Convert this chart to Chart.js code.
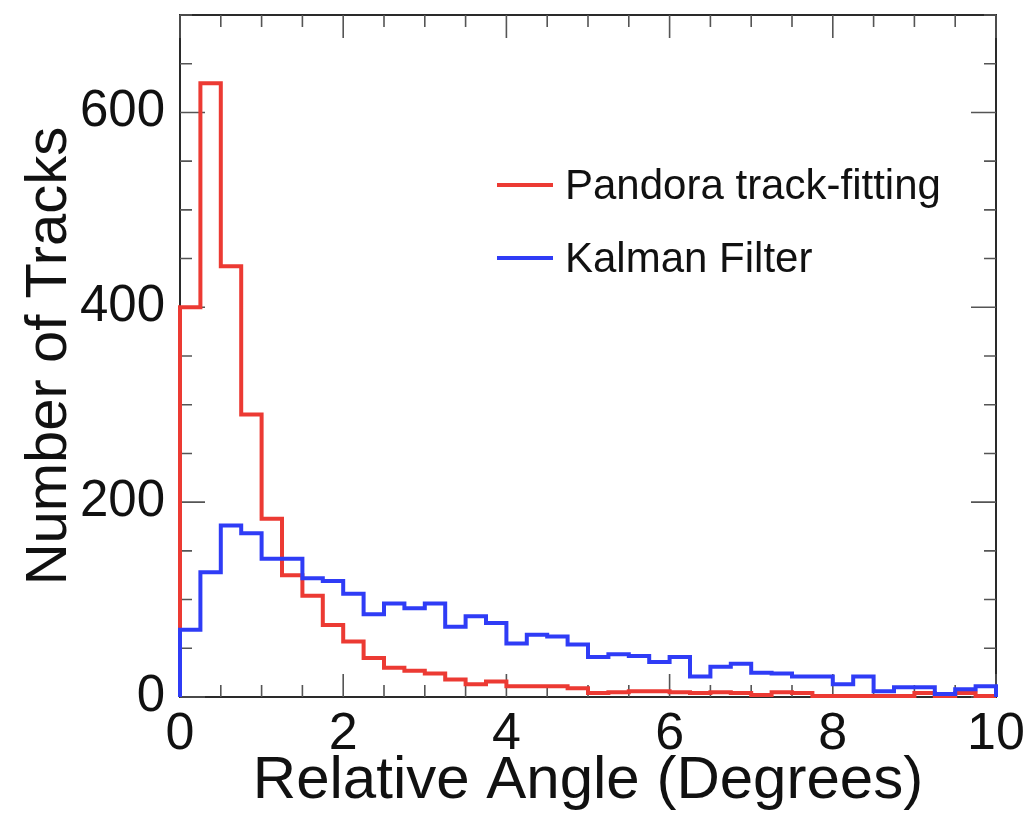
<!DOCTYPE html>
<html>
<head>
<meta charset="utf-8">
<script src="https://cdn.jsdelivr.net/npm/chart.js@4.4.1/dist/chart.umd.min.js"></script>
<style>
  html, body { margin: 0; padding: 0; background: #fff; }
  #wrap { width: 1027px; height: 827px; }
</style>
</head>
<body>
<div id="wrap"><canvas id="angleChart" width="1027" height="827"></canvas></div>
<script>
// histogram bins: left edges in degrees, width 0.25
const binWidth = 0.25;
const binEdges = [0, 0.25, 0.5, 0.75, 1, 1.25, 1.5, 1.75, 2, 2.25, 2.5, 2.75, 3, 3.25, 3.5, 3.75,
    4, 4.25, 4.5, 4.75, 5, 5.25, 5.5, 5.75, 6, 6.25, 6.5, 6.75, 7, 7.25, 7.5, 7.75,
    8, 8.25, 8.5, 8.75, 9, 9.25, 9.5, 9.75];

const pandoraCounts = [400, 630, 442, 290, 183, 125, 104, 74, 57, 40, 30, 27, 24, 18, 13, 16,
    11, 11, 11, 9, 4, 5, 6, 6, 5, 4, 5, 4, 2, 5, 4, 1,
    1, 1, 1, 1, 4, 1, 4, 1];

const kalmanCounts = [69, 128, 176, 168, 142, 142, 122, 119, 106, 85, 96, 91, 96, 72, 83, 76,
    55, 64, 62, 54, 41, 44, 42, 36, 41, 21, 31, 34, 25, 24, 21, 21,
    13, 21, 6, 10, 10, 3, 8, 11];

const seriesLabels = ['Pandora track-fitting', 'Kalman Filter'];
const seriesColors = ['#ec3a33', '#2f3cf6'];

const xTickValues = [0, 2, 4, 6, 8, 10];
const yTickValues = [0, 200, 400, 600];

const FONT = '"Liberation Sans", Arial, Helvetica, sans-serif';

// outline of a histogram as stepped points (horizontal first)
function histPoints(counts) {
    const pts = [{ x: binEdges[0], y: 0 }];
    counts.forEach((c, i) => pts.push({ x: binEdges[i], y: c }));
    const last = binEdges[binEdges.length - 1] + binWidth;
    pts.push({ x: last, y: counts[counts.length - 1] });
    pts.push({ x: last, y: 0 });
    return pts;
}

// box with inward ticks on all four sides (ROOT style)
const frameTicks = {
    id: 'frameTicks',
    beforeDatasetsDraw(chart) {
        const { ctx, chartArea: a, scales: { x, y } } = chart;
        ctx.save();
        ctx.strokeStyle = '#2a2a2a';
        ctx.lineWidth = 2;
        ctx.strokeRect(a.left, a.top, a.right - a.left, a.bottom - a.top);
        ctx.lineWidth = 1.6;
        ctx.strokeStyle = '#555';
        ctx.beginPath();
        for (let v = 0; v <= 10.001; v += 0.5) {
            const px = x.getPixelForValue(v);
            const len = Math.abs(v / 2 - Math.round(v / 2)) < 1e-6 ? 23 : 12;
            ctx.moveTo(px, a.bottom); ctx.lineTo(px, a.bottom - len);
            ctx.moveTo(px, a.top); ctx.lineTo(px, a.top + len);
        }
        for (let v = 0; v <= 700; v += 50) {
            const py = y.getPixelForValue(v);
            const len = v % 200 === 0 ? 25 : 12;
            ctx.moveTo(a.left, py); ctx.lineTo(a.left + len, py);
            ctx.moveTo(a.right, py); ctx.lineTo(a.right - len, py);
        }
        ctx.stroke();
        ctx.restore();
    },
    afterDatasetsDraw(chart) {
        // legend in the upper right of the frame
        const { ctx, chartArea: a } = chart;
        ctx.save();
        ctx.font = '42px ' + FONT;
        ctx.textBaseline = 'middle';
        ctx.fillStyle = '#111';
        seriesLabels.forEach((label, i) => {
            const yy = a.top + 170 + i * 73;
            ctx.strokeStyle = seriesColors[i];
            ctx.lineWidth = 4;
            ctx.beginPath();
            ctx.moveTo(a.left + 317, yy);
            ctx.lineTo(a.left + 373, yy);
            ctx.stroke();
            ctx.fillText(label, a.left + 385, yy + 2);
        });
        ctx.restore();
    }
};

const datasets = [pandoraCounts, kalmanCounts].map((counts, i) => ({
    label: seriesLabels[i],
    data: histPoints(counts),
    borderColor: seriesColors[i],
    borderWidth: 4,
    stepped: true,
    pointRadius: 0,
    fill: false,
    borderJoinStyle: 'miter',
    borderCapStyle: 'butt',
    clip: 6
}));

new Chart(document.getElementById('angleChart'), {
    type: 'line',
    data: { datasets: datasets.reverse() },
    options: {
        responsive: false,
        animation: false,
        layout: { padding: { left: 0, right: 31, top: 15, bottom: 0 } },
        plugins: { legend: { display: false }, tooltip: { enabled: false } },
        scales: {
            x: {
                type: 'linear',
                min: 0,
                max: 10,
                grid: { display: false, drawTicks: false },
                border: { display: false },
                afterBuildTicks: s => { s.ticks = xTickValues.map(v => ({ value: v })); },
                afterFit: s => { s.height = 130; s.paddingLeft = 0; s.paddingRight = 0; },
                ticks: {
                    padding: 6,
                    color: '#111',
                    font: { family: FONT, size: 52 },
                    maxRotation: 0,
                    autoSkip: false
                },
                title: {
                    display: true,
                    text: 'Relative Angle (Degrees)',
                    color: '#111',
                    font: { family: FONT, size: 60 },
                    padding: { top: 0, bottom: 10 }
                }
            },
            y: {
                type: 'linear',
                min: 0,
                max: 700,
                grid: { display: false, drawTicks: false },
                border: { display: false },
                afterBuildTicks: s => { s.ticks = yTickValues.map(v => ({ value: v })); },
                afterFit: s => { s.width = 180; s.paddingTop = 0; s.paddingBottom = 0; },
                ticks: {
                    padding: 15,
                    color: '#111',
                    font: { family: FONT, size: 51 },
                    autoSkip: false
                },
                title: {
                    display: true,
                    text: 'Number of Tracks',
                    color: '#111',
                    font: { family: FONT, size: 58 },
                    padding: { top: 15, bottom: 0 }
                }
            }
        }
    },
    plugins: [frameTicks]
});
</script>
</body>
</html>
